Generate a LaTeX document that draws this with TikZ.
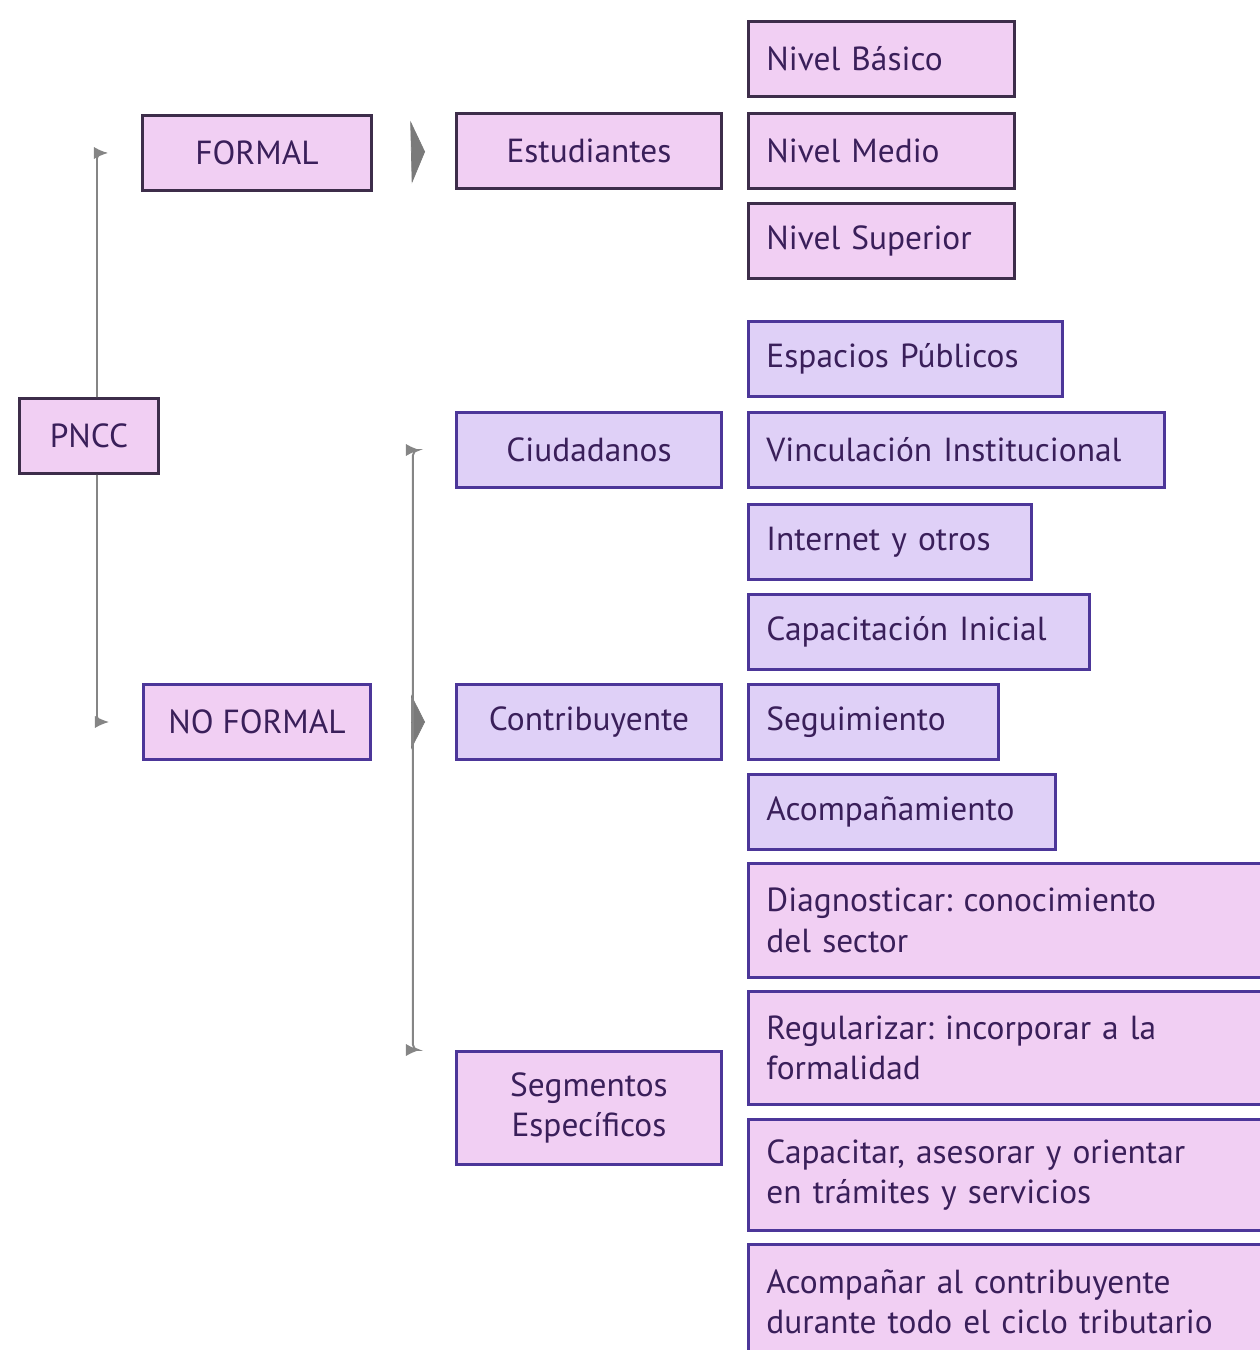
\documentclass[tikz,border=0pt]{standalone}
\usepackage{fontspec}
\setmainfont{PT Sans}
\usetikzlibrary{arrows.meta}
\frenchspacing

\definecolor{boxpink}{HTML}{F1CFF3}
\definecolor{boxlav}{HTML}{DFD0F7}
\definecolor{edgedark}{HTML}{3D2D4A}
\definecolor{edgepurple}{HTML}{4C3699}
\definecolor{inkpurple}{HTML}{3A1F5A}
\definecolor{linegray}{HTML}{858585}
\definecolor{chevgray}{HTML}{7A7A7A}

\tikzset{
  box/.style={draw=edgedark, fill=boxpink, line width=1.7pt, text=inkpurple,
    font=\fontsize{19}{23}\selectfont, minimum height=1.5cm, inner sep=0pt},
  head/.style={box, anchor=north west, align=center, minimum width=#1},
  leaf/.style={box, anchor=north west, align=left, inner xsep=0.36cm, text width=#1},
  conn/.style={draw=linegray, line width=1.1pt, rounded corners=3pt,
    -{Latex[length=8pt,width=7pt]}},
  chev/.style={draw=chevgray, line width=0.4pt, shorten <=0.82cm, shorten >=0.6cm,
    -{Triangle[length=0.28cm,width=#1,fill=chevgray]}}
}

\begin{document}
\begin{tikzpicture}[x=0.02cm, y=-0.02cm]
    \useasboundingbox (0,0) rectangle (1260,1350);
    \clip (0,0) rectangle (1260,1350);

    % Root and first level
    \node[head=2.78cm] (PNCC) at (18,397) {PNCC};
    \node[head=4.58cm] (formal) at (141,114) {FORMAL};
    \node[head=4.54cm, draw=edgepurple] (noformal) at (142,683) {NO FORMAL};

    % Second level
    \node[head=5.3cm] (estud) at (455,112) {Estudiantes};
    \node[head=5.3cm, fill=boxlav, draw=edgepurple] (ciud) at (455,411) {Ciudadanos};
    \node[head=5.3cm, fill=boxlav, draw=edgepurple] (contrib) at (455,683) {Contribuyente};
    \node[head=5.3cm, draw=edgepurple, minimum height=2.26cm] (segm) at (455,1050)
        {Segmentos\\Específicos};

    % Leaves: formal
    \node[leaf=4.6cm] (basico) at (747,20) {Nivel Básico};
    \node[leaf=4.6cm] (medio) at (747,112) {Nivel Medio};
    \node[leaf=4.6cm] (superior) at (747,202) {Nivel Superior};

    % Leaves: ciudadanos and contribuyente
    \node[leaf=5.56cm, fill=boxlav, draw=edgepurple] (espacios) at (747,320) {Espacios Públicos};
    \node[leaf=7.6cm, fill=boxlav, draw=edgepurple] (vincul) at (747,411) {Vinculación Institucional};
    \node[leaf=4.94cm, fill=boxlav, draw=edgepurple] (internet) at (747,503) {Internet y otros};
    \node[leaf=6.1cm, fill=boxlav, draw=edgepurple] (capinicial) at (747,593) {Capacitación Inicial};
    \node[leaf=4.28cm, fill=boxlav, draw=edgepurple] (seguim) at (747,683) {Seguimiento};
    \node[leaf=5.42cm, fill=boxlav, draw=edgepurple] (acomp) at (747,773) {Acompañamiento};

    % Leaves: segmentos especificos
    \node[leaf=9.84cm, draw=edgepurple, minimum height=2.28cm] (diagnost) at (747,862)
        {Diagnosticar: conocimiento\\del sector};
    \node[leaf=9.84cm, draw=edgepurple, minimum height=2.26cm] (regular) at (747,990)
        {Regularizar: incorporar a la\\formalidad};
    \node[leaf=9.84cm, draw=edgepurple, minimum height=2.22cm] (capacitar) at (747,1118)
        {Capacitar, asesorar y orientar\\en trámites y servicios};
    \node[leaf=9.84cm, draw=edgepurple, minimum height=2.28cm] (acompanar) at (747,1243)
        {Acompañar al contribuyente\\durante todo el ciclo tributario};

    % Connectors
    \draw[conn] ([xshift=0.16cm]PNCC.north) |- ([xshift=-0.66cm]formal.west);
    \draw[conn] ([xshift=0.16cm]PNCC.south) |- ([xshift=-0.66cm]noformal.west);
    \draw[chev=1.26cm] (formal.east) -- (estud.west);
    \draw[chev=1.1cm] (noformal.east) -- (contrib.west);
    \draw[conn] ([xshift=0.82cm]noformal.east) |- ([xshift=-0.7cm]ciud.west);
    \draw[conn] ([xshift=0.82cm]noformal.east) |- ([xshift=-0.7cm]segm.north west);
\end{tikzpicture}
\end{document}
